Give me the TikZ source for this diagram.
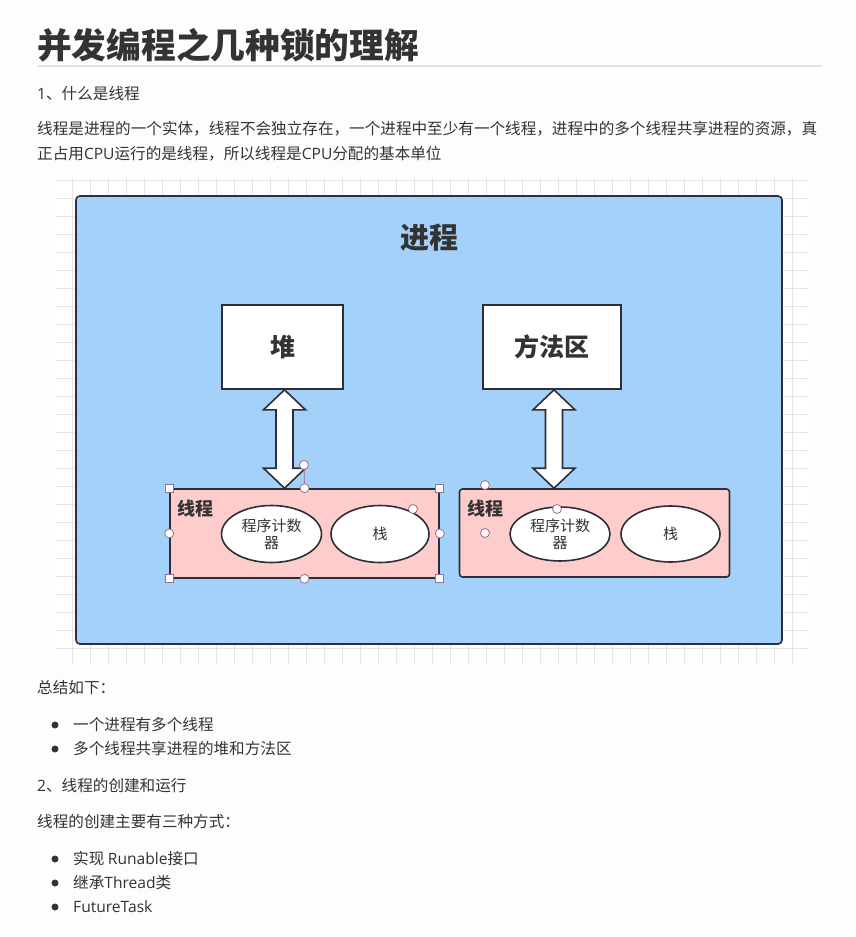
\documentclass[tikz,border=0pt]{standalone}
\usepackage{fontspec}
\setmainfont{Noto Sans CJK SC}
\newfontfamily\en{Open Sans}
\usetikzlibrary{calc,shapes.geometric}
\definecolor{ink}{HTML}{333333}
\definecolor{edge}{HTML}{2E2E3A}
\definecolor{procblue}{HTML}{A4D1F9}
\definecolor{threadpink}{HTML}{FFCCCC}
\definecolor{gridgray}{HTML}{E4E4E4}
\definecolor{handle}{HTML}{9A6E8E}
\definecolor{paper}{HTML}{FDFDFB}
\tikzset{%
	block/.style     = {draw=edge, line width=1.6pt, fill=white, rectangle, inner sep=0pt},
	thread/.style    = {draw=edge, line width=1.6pt, fill=threadpink, rectangle, inner sep=0pt},
	part/.style      = {draw=edge, line width=1.6pt, fill=white, ellipse, inner sep=0pt,
		align=center, text=ink, font=\fontsize{15}{17}\selectfont},
	fatarrow/.style  = {draw=edge, line width=1.6pt, fill=white, line join=miter},
	handlebox/.style = {draw=handle, fill=white, rectangle, line width=0.8pt, minimum size=8pt, inner sep=0pt},
	handledot/.style = {draw=handle, fill=white, circle, line width=0.8pt, minimum size=9pt, inner sep=0pt},
	txt/.style       = {anchor=west, text=ink, inner sep=0pt, font=\fontsize{15.6}{18}\selectfont},
	bullet/.style    = {circle, fill=ink, minimum size=7pt, inner sep=0pt} % list dot
}
% double arrow between two points on one vertical line
\newcommand\twoway[2]{%
	\draw[fatarrow] let \p1=(#1), \p2=(#2) in
	(\x1,\y1) -- (\x1+21pt,\y1-20pt) -- (\x1+8.5pt,\y1-20pt) -- (\x1+8.5pt,\y2+20pt)
	-- (\x1+21pt,\y2+20pt) -- (\x1,\y2) -- (\x1-21pt,\y2+20pt) -- (\x1-8.5pt,\y2+20pt)
	-- (\x1-8.5pt,\y1-20pt) -- (\x1-21pt,\y1-20pt) -- cycle;}
\begin{document}
\begin{tikzpicture}[x=1pt,y=-1pt]
	\fill[paper] (0,0) rectangle (856,937);
	\useasboundingbox (0,0) rectangle (856,937);
	
	% heading and intro
	\node[txt, font=\fontsize{34.7}{38}\selectfont\bfseries] (title) at (37,45) {并发编程之几种锁的理解};
	\draw[gridgray, line width=1.5pt] (37,66) -- (822,66);
	\node[txt] (sec1) at (37,94) {{\en 1}、什么是线程};
	\node[txt] (para1a) at (37,129) {线程是进程的一个实体，线程不会独立存在，一个进程中至少有一个线程，进程中的多个线程共享进程的资源，真};
	\node[txt] (para1b) at (37,154) {正占用{\en CPU}运行的是线程，所以线程是{\en CPU}分配的基本单位};
	
	% diagram
	\fill[white] (55,178) rectangle (808,663);
	\draw[gridgray, line width=0.7pt] (55,178) grid[step=18pt] (808,663);
	\node[block, fill=procblue, rounded corners=4pt, minimum width=706pt, minimum height=448pt] (proc) at (429,420) {};
	\node[text=ink, font=\fontsize{29}{32}\selectfont\bfseries] (proclabel) at (429,238) {进程};
	
	\node[block, minimum width=121pt, minimum height=84pt, font=\fontsize{25}{28}\selectfont\bfseries, text=ink] (heap) at (282.5,347) {堆};
	\node[block, minimum width=138pt, minimum height=84pt, font=\fontsize{25}{28}\selectfont\bfseries, text=ink] (method) at (552,347) {方法区};
	
	\node[thread, minimum width=269pt, minimum height=89pt] (t1) at (304.5,533.5) {};
	\node[thread, rounded corners=3pt, minimum width=270pt, minimum height=88pt] (t2) at (594.5,533) {};
	\node[text=ink, font=\fontsize{18}{20}\selectfont\bfseries] (t1label) at (195,509) {线程};
	\node[text=ink, font=\fontsize{18}{20}\selectfont\bfseries] (t2label) at (485,509) {线程};
	
	\node[part, minimum width=100pt, minimum height=57pt] (pc1) at (271.5,534) {程序计数\\器};
	\node[part, minimum width=98pt, minimum height=57pt] (stack1) at (380,534) {栈};
	\node[part, minimum width=100pt, minimum height=54pt] (pc2) at (560,534) {程序计数\\器};
	\node[part, minimum width=99pt, minimum height=56pt] (stack2) at (670.5,534) {栈};
	
	\coordinate (a1) at (284.5,0);
	\coordinate (a2) at (554,0);
	\twoway{heap.south -| a1}{t1.north -| a1}
	\twoway{method.south -| a2}{t2.north -| a2}
	
	% selection handles
	\node[handledot] (rot) at (304,465) {};
	\draw[handle, line width=0.8pt] (rot) -- (t1.north);
	\foreach \a in {north west,north east,south west,south east}
		\node[handlebox] at (t1.\a) {};
	\foreach \a in {north,south,west,east}
		\node[handledot] at (t1.\a) {};
	\node[handledot] (h1) at (413,509) {};
	\node[handledot] (h2) at (485,485) {};
	\node[handledot] (h3) at (485,533) {};
	\node[handledot] (h4) at (557,509) {};
	
	% summary
	\node[txt] (sumhead) at (37,688) {总结如下：};
	\node[bullet] (b1) at (55,725) {};
	\node[txt] (pt1) at (73,725) {一个进程有多个线程};
	\node[bullet] (b2) at (55,749) {};
	\node[txt] (pt2) at (73,749) {多个线程共享进程的堆和方法区};
	\node[txt] (sec2) at (37,786) {{\en 2}、线程的创建和运行};
	\node[txt] (ways) at (37,822) {线程的创建主要有三种方式：};
	\node[bullet] (b3) at (55,859) {};
	\node[txt] (way1) at (73,859) {实现 {\en Runable}接口};
	\node[bullet] (b4) at (55,883) {};
	\node[txt] (way2) at (73,883) {继承{\en Thread}类};
	\node[bullet] (b5) at (55,907) {};
	\node[txt] (way3) at (73,907) {{\en FutureTask}};
\end{tikzpicture}
\end{document}
